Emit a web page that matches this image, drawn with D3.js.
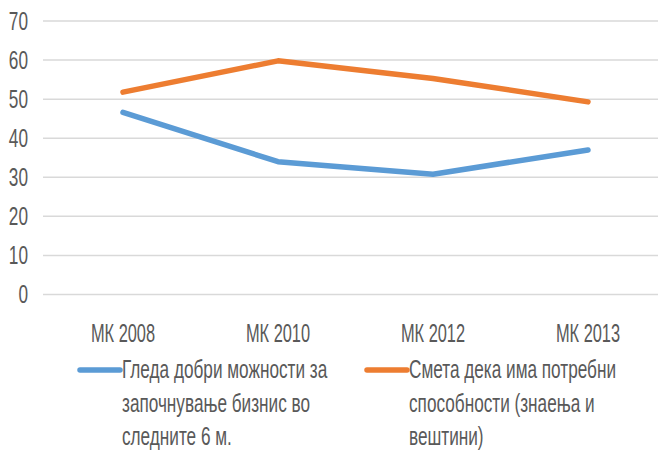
<!DOCTYPE html>
<html>
<head>
<meta charset="utf-8">
<script src="https://cdn.jsdelivr.net/npm/d3@7"></script>
<style>
  body { margin: 0; background: #fff; }
  text { font-family: "Liberation Sans", Arial, sans-serif; fill: #595959; }
</style>
</head>
<body>
<div id="chart"></div>
<script>
// data
var categories = ["МК 2008", "МК 2010", "МК 2012", "МК 2013"];
var seriesNames = [
  ["Гледа добри можности за", "започнување бизнис во", "следните 6 м."],
  ["Смета дека има потребни", "способности (знаења и", "вештини)"]
];
var opportunities = [46.6, 34.0, 30.8, 37.0];
var capabilities = [51.8, 59.8, 55.3, 49.3];
var yTicks = [0, 10, 20, 30, 40, 50, 60, 70];

var colors = ["#5B9BD5", "#ED7D31"];
var allSeries = [opportunities, capabilities];

var svgWidth = 658;
var svgHeight = 450;
// the fonts in the picture are narrow and tall, so squeeze them
var squeeze = "scale(0.82, 1.25)";
var legendSqueeze = "scale(0.86, 1.25)";

var svg = d3.select("#chart")
  .append("svg")
  .attr("width", svgWidth)
  .attr("height", svgHeight);

// scales
var xScale = d3.scalePoint()
  .domain(categories)
  .range([123, 588]);

var yScale = d3.scaleLinear()
  .domain([0, 70])
  .range([294.5, 21]);

// gridlines
svg.append("g")
  .selectAll("line")
  .data(yTicks)
  .enter()
  .append("line")
  .attr("x1", 43)
  .attr("x2", svgWidth)
  .attr("y1", d => yScale(d))
  .attr("y2", d => yScale(d))
  .attr("stroke", "#d9d9d9")
  .attr("stroke-width", 1.5);

// y tick labels
svg.append("g")
  .selectAll("text")
  .data(yTicks)
  .enter()
  .append("text")
  .attr("text-anchor", "end")
  .attr("font-size", "21px")
  .attr("transform", d => `translate(28, ${yScale(d) + 8.5}) ${squeeze}`)
  .text(d => d);

// x tick labels
svg.append("g")
  .selectAll("text")
  .data(categories)
  .enter()
  .append("text")
  .attr("text-anchor", "middle")
  .attr("font-size", "20px")
  .attr("transform", d => `translate(${xScale(d)}, 342) ${squeeze}`)
  .text(d => d);

// the lines
var line = d3.line()
  .x((d, i) => xScale(categories[i]))
  .y(d => yScale(d));

svg.append("g")
  .selectAll("path")
  .data(allSeries)
  .enter()
  .append("path")
  .attr("d", d => line(d))
  .attr("fill", "none")
  .attr("stroke", (d, i) => colors[i])
  .attr("stroke-width", 5.5)
  .attr("stroke-linecap", "round")
  .attr("stroke-linejoin", "round");

// legend
var legendX = [80, 367];
var legend = svg.append("g")
  .selectAll("g")
  .data(seriesNames)
  .enter()
  .append("g")
  .attr("transform", (d, i) => `translate(${legendX[i]}, 0)`);

legend.append("line")
  .attr("x1", 0)
  .attr("x2", 40)
  .attr("y1", 370)
  .attr("y2", 370)
  .attr("stroke", (d, i) => colors[i])
  .attr("stroke-width", 5.5)
  .attr("stroke-linecap", "round");

legend.selectAll("text")
  .data(d => d)
  .enter()
  .append("text")
  .attr("font-size", "20px")
  .attr("transform", (d, j) => `translate(42, ${378 + j * 33.5}) ${legendSqueeze}`)
  .text(d => d);
</script>
</body>
</html>
